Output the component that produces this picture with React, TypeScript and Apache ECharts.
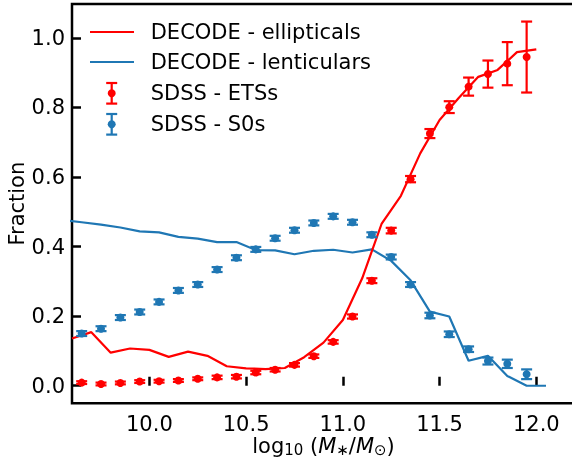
import React, { useEffect, useRef } from "react";
import * as echarts from "echarts";

// DECODE model lines
const ellLineX = [9.6, 9.7, 9.8, 9.9, 10.0, 10.1, 10.2, 10.3, 10.4, 10.5, 10.6, 10.7, 10.8, 10.9, 11.0, 11.1, 11.2, 11.3, 11.4, 11.5, 11.6, 11.7, 11.8, 11.9, 12.0];
const ellLineY = [0.136, 0.154, 0.095, 0.107, 0.103, 0.083, 0.098, 0.086, 0.056, 0.050, 0.048, 0.051, 0.082, 0.124, 0.189, 0.309, 0.465, 0.546, 0.668, 0.764, 0.828, 0.888, 0.908, 0.959, 0.967];
const lenLineX = [9.55, 9.65, 9.75, 9.85, 9.95, 10.05, 10.15, 10.25, 10.35, 10.45, 10.55, 10.65, 10.75, 10.85, 10.95, 11.05, 11.15, 11.25, 11.35, 11.45, 11.55, 11.65, 11.75, 11.85, 11.95, 12.05];
const lenLineY = [0.477, 0.470, 0.463, 0.455, 0.444, 0.441, 0.428, 0.423, 0.413, 0.413, 0.390, 0.389, 0.378, 0.388, 0.391, 0.383, 0.392, 0.359, 0.303, 0.213, 0.199, 0.072, 0.086, 0.028, 0.0, 0.0];

// SDSS binned fractions
const sdssX = [9.65, 9.75, 9.85, 9.95, 10.05, 10.15, 10.25, 10.35, 10.45, 10.55, 10.65, 10.75, 10.85, 10.95, 11.05, 11.15, 11.25, 11.35, 11.45, 11.55, 11.65, 11.75, 11.85, 11.95];
const etsY = [0.009, 0.005, 0.008, 0.012, 0.013, 0.015, 0.020, 0.024, 0.026, 0.038, 0.046, 0.060, 0.085, 0.126, 0.199, 0.302, 0.446, 0.594, 0.725, 0.801, 0.860, 0.896, 0.926, 0.945];
const etsErr = [0.004, 0.004, 0.004, 0.004, 0.004, 0.004, 0.004, 0.005, 0.005, 0.005, 0.005, 0.005, 0.005, 0.005, 0.006, 0.007, 0.008, 0.009, 0.013, 0.017, 0.026, 0.039, 0.062, 0.102];
const s0Y = [0.150, 0.164, 0.196, 0.212, 0.241, 0.274, 0.291, 0.334, 0.368, 0.392, 0.424, 0.447, 0.468, 0.487, 0.470, 0.434, 0.370, 0.291, 0.202, 0.148, 0.105, 0.071, 0.063, 0.033];
const s0Err = [0.007, 0.007, 0.007, 0.007, 0.007, 0.007, 0.007, 0.007, 0.007, 0.007, 0.007, 0.007, 0.007, 0.007, 0.007, 0.007, 0.007, 0.007, 0.008, 0.008, 0.008, 0.010, 0.012, 0.014];

const xTicks = [10.0, 10.5, 11.0, 11.5, 12.0];
const yTicks = [0.0, 0.2, 0.4, 0.6, 0.8, 1.0];

const RED = "#ff0000";
const BLUE = "#1f77b4";
const FONT = "DejaVu Sans";
const FS = 21;
const LW = 2.2;

function errSeries(name: string, ys: number[], errs: number[], color: string) {
  return {
    name,
    type: "custom",
    z: 5,
    itemStyle: { color },
    encode: { x: 0, y: 1 },
    data: sdssX.map((x, i) => [x, ys[i], errs[i]]),
    renderItem: (params: any, api: any) => {
      const x = api.value(0);
      const y = api.value(1);
      const e = api.value(2);
      const c = api.coord([x, y]);
      const t = api.coord([x, y + e]);
      const b = api.coord([x, y - e]);
      const cw = 5.5;
      const ls = { stroke: color, lineWidth: LW };
      return {
        type: "group",
        children: [
          { type: "line", shape: { x1: c[0], y1: t[1], x2: c[0], y2: b[1] }, style: ls },
          { type: "line", shape: { x1: c[0] - cw, y1: t[1], x2: c[0] + cw, y2: t[1] }, style: ls },
          { type: "line", shape: { x1: c[0] - cw, y1: b[1], x2: c[0] + cw, y2: b[1] }, style: ls },
          { type: "circle", shape: { cx: c[0], cy: c[1], r: 4 }, style: { fill: color } },
        ],
      };
    },
  };
}

function legendGraphics() {
  const items: any[] = [];
  const textX = 150.7;
  const rows = [
    { y: 32, label: "DECODE - ellipticals", kind: "line", color: RED },
    { y: 62, label: "DECODE - lenticulars", kind: "line", color: BLUE },
    { y: 93.3, label: "SDSS - ETSs", kind: "err", color: RED },
    { y: 124.3, label: "SDSS - S0s", kind: "err", color: BLUE },
  ];
  rows.forEach((r) => {
    if (r.kind === "line") {
      items.push({ type: "line", shape: { x1: 90, y1: r.y, x2: 134, y2: r.y }, style: { stroke: r.color, lineWidth: LW } });
    } else {
      const cx = 111.7;
      const ls = { stroke: r.color, lineWidth: LW };
      items.push({ type: "line", shape: { x1: cx, y1: r.y - 10.3, x2: cx, y2: r.y + 10.3 }, style: ls });
      items.push({ type: "line", shape: { x1: cx - 5.5, y1: r.y - 10.3, x2: cx + 5.5, y2: r.y - 10.3 }, style: ls });
      items.push({ type: "line", shape: { x1: cx - 5.5, y1: r.y + 10.3, x2: cx + 5.5, y2: r.y + 10.3 }, style: ls });
      items.push({ type: "circle", shape: { cx, cy: r.y, r: 4 }, style: { fill: r.color } });
    }
    items.push({
      type: "text",
      x: textX,
      y: r.y,
      style: { text: r.label, fontSize: FS, fontFamily: FONT, fill: "#000", align: "left", verticalAlign: "middle" },
    });
  });
  // x-axis title (mathtext-like)
  items.push({
    type: "text",
    x: 323.5,
    y: 435,
    style: {
      text: "{n|log}{s|10}{n| (}{i|M}{s|∗}{n|/}{i|M}{s|⊙}{n|)}",
      align: "center",
      verticalAlign: "top",
      rich: {
        n: { fontSize: FS, fontFamily: FONT, fill: "#000", lineHeight: 22 },
        i: { fontSize: FS, fontFamily: FONT, fontStyle: "italic", fill: "#000", lineHeight: 22 },
        s: { fontSize: 15, fontFamily: FONT, fill: "#000", lineHeight: 12, verticalAlign: "bottom" },
      },
    },
  });
  return items;
}

export default function App() {
  const ref = useRef<HTMLDivElement>(null);
  useEffect(() => {
    if (!ref.current) return;
    const chart = echarts.init(ref.current, null, { renderer: "svg" });
    const axisLabelStyle = { fontSize: FS, fontFamily: FONT, color: "#000" };
    chart.setOption({
      animation: false,
      textStyle: { fontFamily: FONT },
      grid: {
        left: 72,
        top: 4,
        right: -3,
        bottom: 57.7,
        show: true,
        borderColor: "#000",
        borderWidth: 2.5,
        containLabel: false,
        outerBoundsMode: "none",
      },
      xAxis: {
        type: "value",
        min: 9.6,
        max: 12.2,
        splitLine: { show: false },
        axisLine: { show: false },
        axisTick: { show: true, inside: true, length: 9, lineStyle: { color: "#000", width: 2.5 }, customValues: xTicks },
        axisLabel: { ...axisLabelStyle, margin: 10, customValues: xTicks, formatter: (v: number) => v.toFixed(1) },
      },
      yAxis: {
        type: "value",
        min: -0.0505,
        max: 1.0975,
        splitLine: { show: false },
        axisLine: { show: false },
        axisTick: { show: true, inside: true, length: 9, lineStyle: { color: "#000", width: 2.5 }, customValues: yTicks },
        axisLabel: { ...axisLabelStyle, margin: 7, customValues: yTicks, formatter: (v: number) => v.toFixed(1) },
        name: "Fraction",
        nameLocation: "middle",
        nameGap: 45,
        nameMoveOverlap: false,
        nameTextStyle: { fontSize: FS, fontFamily: FONT, color: "#000" },
      },
      series: [
        {
          name: "DECODE - lenticulars",
          type: "line",
          data: lenLineX.map((x, i) => [x, lenLineY[i]]),
          showSymbol: false,
          lineStyle: { color: BLUE, width: LW },
          itemStyle: { color: BLUE },
          z: 2,
        },
        {
          name: "DECODE - ellipticals",
          type: "line",
          data: ellLineX.map((x, i) => [x, ellLineY[i]]),
          showSymbol: false,
          lineStyle: { color: RED, width: LW },
          itemStyle: { color: RED },
          z: 3,
        },
        errSeries("SDSS - ETSs", etsY, etsErr, RED),
        errSeries("SDSS - S0s", s0Y, s0Err, BLUE),
      ],
      graphic: legendGraphics(),
    });
    return () => chart.dispose();
  }, []);
  return <div ref={ref} style={{ position: "fixed", left: 0, top: 0, width: 572, height: 461 }} />;
}
